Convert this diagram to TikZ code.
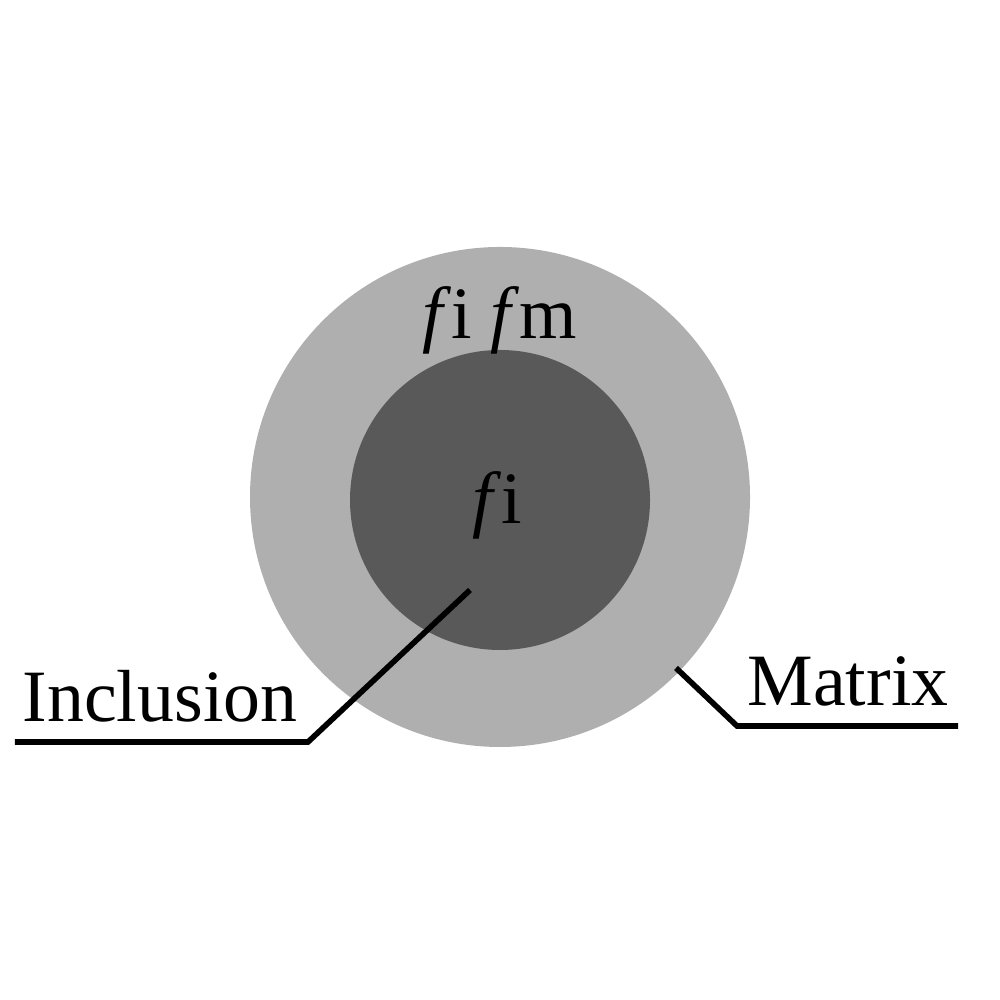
\documentclass[tikz,border=0pt]{standalone}
\usepackage{fontspec}
\setmainfont{Liberation Serif}
\usetikzlibrary{positioning}
\definecolor{matrixgray}{RGB}{175,175,175}
\definecolor{inclgray}{RGB}{89,89,89}
\begin{document}
\begin{tikzpicture}[
		label text/.style={font=\fontsize{21}{24}\selectfont, inner sep=0pt},
		leader/.style={line width=1.6pt}]
	\useasboundingbox (0,0) rectangle (10,10);
	
	\fill[matrixgray] (5,5.03) circle (2.5);
	\fill[inclgray] (5,5) circle (1.5);
	
	\node[label text] (fifm) at (5,6.8) {\textit{f}i \textit{f}m};
	\node[label text] (fi) at (4.97,4.95) {\textit{f}i};
	
	\coordinate (incl_end) at (4.7,4.1);
	\coordinate (incl_knee) at (3.08,2.58);
	\coordinate (incl_tail) at (0.15,2.58);
	\node[label text, anchor=base] (inclusion) at (1.6,2.78) {Inclusion};
	\draw[leader] (incl_end) -- (incl_knee) -- (incl_tail);
	
	\coordinate (mat_end) at (6.76,3.32);
	\coordinate (mat_knee) at (7.37,2.74);
	\coordinate (mat_tail) at (9.58,2.74);
	\node[label text, anchor=base] (matrix) at (8.48,2.94) {Matrix};
	\draw[leader] (mat_end) -- (mat_knee) -- (mat_tail);
\end{tikzpicture}
\end{document}
